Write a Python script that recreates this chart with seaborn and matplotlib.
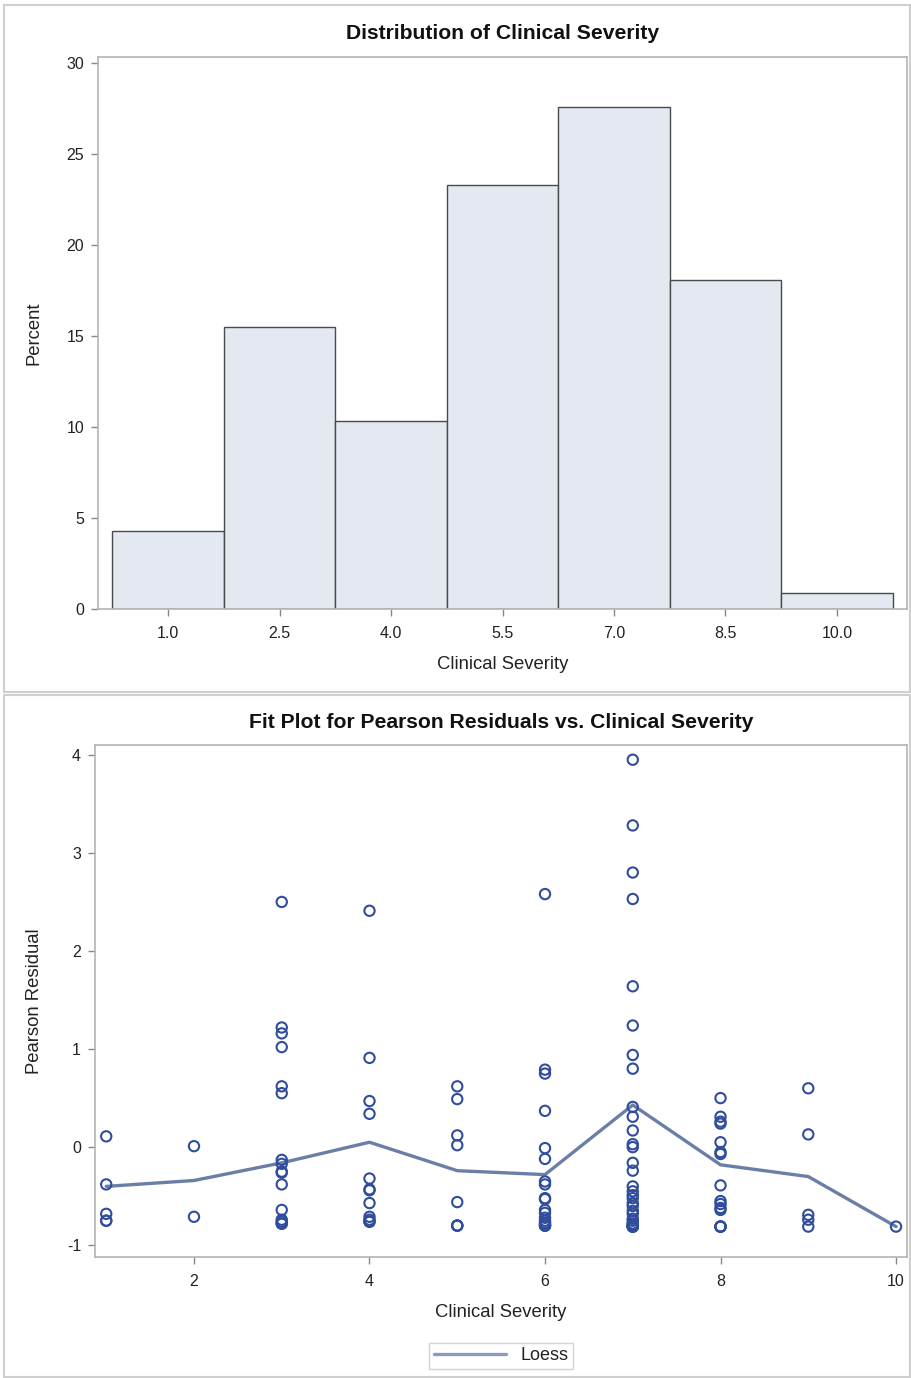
import numpy as np
import pandas as pd
import matplotlib
matplotlib.use("Agg")
import matplotlib.pyplot as plt
from matplotlib.patches import Rectangle
import seaborn as sns

# ---------------- data ----------------
bin_centers = [1.0, 2.5, 4.0, 5.5, 7.0, 8.5, 10.0]
bin_percent = [4.31, 15.52, 10.34, 23.28, 27.59, 18.10, 0.86]
bin_width = 1.5

res_1 = [0.11, -0.38, -0.68, -0.75, -0.75]
res_2 = [0.01, -0.71]
res_3 = [2.50, 1.22, 1.16, 1.02, 0.62, 0.55, -0.13, -0.17, -0.25, -0.26,
         -0.38, -0.64, -0.74, -0.76, -0.78, -0.78]
res_4 = [2.41, 0.91, 0.47, 0.34, -0.32, -0.43, -0.44, -0.57, -0.71, -0.74,
         -0.76, -0.76]
res_5 = [0.62, 0.49, 0.12, 0.02, -0.56, -0.80, -0.80, -0.80]
res_6 = [2.58, 0.79, 0.75, 0.37, -0.01, -0.12, -0.35, -0.38, -0.52, -0.53,
         -0.64, -0.67, -0.72, -0.75, -0.77, -0.78, -0.80, -0.80, -0.80]
res_7 = [3.95, 3.28, 2.80, 2.53, 1.64, 1.24, 0.94, 0.80, 0.41, 0.31,
         0.17, 0.03, 0.00, -0.16, -0.24, -0.40, -0.45, -0.49, -0.52, -0.57,
         -0.60, -0.65, -0.68, -0.73, -0.75, -0.78, -0.78, -0.80, -0.81, -0.81,
         -0.81, -0.81]
res_8 = [0.50, 0.31, 0.24, 0.26, 0.05, -0.05, -0.07, -0.39, -0.55, -0.58,
         -0.62, -0.64, -0.81, -0.81, -0.81, -0.81]
res_9 = [0.60, 0.13, -0.69, -0.74, -0.81]
res_10 = [-0.81]
severity_levels = [1, 2, 3, 4, 5, 6, 7, 8, 9, 10]
residual_groups = [res_1, res_2, res_3, res_4, res_5, res_6, res_7, res_8,
                   res_9, res_10]

loess_x = [1, 2, 3, 4, 5, 6, 7, 8, 9, 10]
loess_y = [-0.40, -0.34, -0.16, 0.05, -0.24, -0.28, 0.43, -0.18, -0.30, -0.81]

hist_xticks = [1.0, 2.5, 4.0, 5.5, 7.0, 8.5, 10.0]
hist_yticks = [0, 5, 10, 15, 20, 25, 30]
fit_xticks = [2, 4, 6, 8, 10]
fit_yticks = [-1, 0, 1, 2, 3, 4]

# ---------------- style ----------------
sns.set_theme(style="white")
plt.rcParams['font.family'] = ['Liberation Sans', 'DejaVu Sans']
plt.rcParams['axes.unicode_minus'] = False

FILL = '#e4e8f0'
EDGE = '#4a4a4a'
MARK = '#2f4d9c'
LINE = '#6a7fa6'
FRAME = '#b4b4b4'
TXT = '#222222'

W, H = 911, 1378
fig = plt.figure(figsize=(W / 100, H / 100), dpi=100)


def ax_rect(l, t, r, b):
    return [l / W, 1 - b / H, (r - l) / W, (b - t) / H]


# panel borders
for (l, t, r, b) in [(4, 5, 910, 692), (4, 695, 910, 1377)]:
    fig.patches.append(Rectangle((l / W, 1 - b / H), (r - l) / W, (b - t) / H,
                                 transform=fig.transFigure, fill=False,
                                 edgecolor='#cfcfcf', linewidth=1.5))


def style_axes(ax):
    for s in ax.spines.values():
        s.set_color(FRAME)
        s.set_linewidth(1.2)
        s.set_visible(True)
    ax.tick_params(axis='both', direction='out', length=5, width=1,
                   color='#888888', labelsize=11.5, labelcolor=TXT,
                   bottom=True, left=True, top=False, right=False)
    ax.tick_params(axis='x', pad=7)
    ax.tick_params(axis='y', pad=5)


# ---------------- histogram ----------------
ax1 = fig.add_axes(ax_rect(98, 57, 907, 609))
hist_df = pd.DataFrame({"severity": bin_centers, "percent": bin_percent})
sns.histplot(data=hist_df, x="severity", weights="percent",
             binwidth=bin_width,
             binrange=(bin_centers[0] - bin_width / 2,
                       bin_centers[-1] + bin_width / 2),
             ax=ax1, color=FILL, edgecolor=EDGE, linewidth=1.0, alpha=1.0)
ax1.set_xlim(0.058, 10.942)
ax1.set_ylim(0, 30.33)
ax1.set_xticks(hist_xticks)
ax1.set_xticklabels([f"{v:.1f}" for v in hist_xticks])
ax1.set_yticks(hist_yticks)
ax1.set_xlabel("Clinical Severity", fontsize=13.3, color=TXT, labelpad=11)
ax1.set_ylabel("Percent", fontsize=13.3, color=TXT, labelpad=17)
ax1.set_title("Distribution of Clinical Severity", fontsize=15.2,
              fontweight='bold', color='#111111', pad=13)
style_axes(ax1)

# ---------------- fit plot ----------------
ax2 = fig.add_axes(ax_rect(95, 745, 907, 1257))
df = pd.DataFrame({
    "severity": [lvl for lvl, g in zip(severity_levels, residual_groups) for _ in g],
    "residual": [v for g in residual_groups for v in g],
})
sns.scatterplot(data=df, x="severity", y="residual", ax=ax2, marker='o',
                s=55, facecolor='none', edgecolor=MARK, linewidth=1.5,
                zorder=3)
sns.lineplot(x=loess_x, y=loess_y, ax=ax2, color=LINE, linewidth=2.4,
             label="Loess", zorder=2)
ax2.set_xlim(0.872, 10.125)
ax2.set_ylim(-1.12, 4.10)
ax2.set_xticks(fit_xticks)
ax2.set_yticks(fit_yticks)
ax2.set_xlabel("Clinical Severity", fontsize=13.3, color=TXT, labelpad=11)
ax2.set_ylabel("Pearson Residual", fontsize=13.3, color=TXT, labelpad=17)
ax2.set_title("Fit Plot for Pearson Residuals vs. Clinical Severity",
              fontsize=15.2, fontweight='bold', color='#111111', pad=12)
style_axes(ax2)
leg = ax2.legend(loc='upper center', bbox_to_anchor=(0.5, -0.15),
                 frameon=True, fontsize=13, handlelength=4.0,
                 borderpad=0.25, fancybox=False)
leg.get_frame().set_edgecolor('#c8c8c8')
leg.get_lines()[0].set_color('#8a9cbc')
for t in leg.get_texts():
    t.set_color(TXT)

fig.savefig("out.png", dpi=100)
